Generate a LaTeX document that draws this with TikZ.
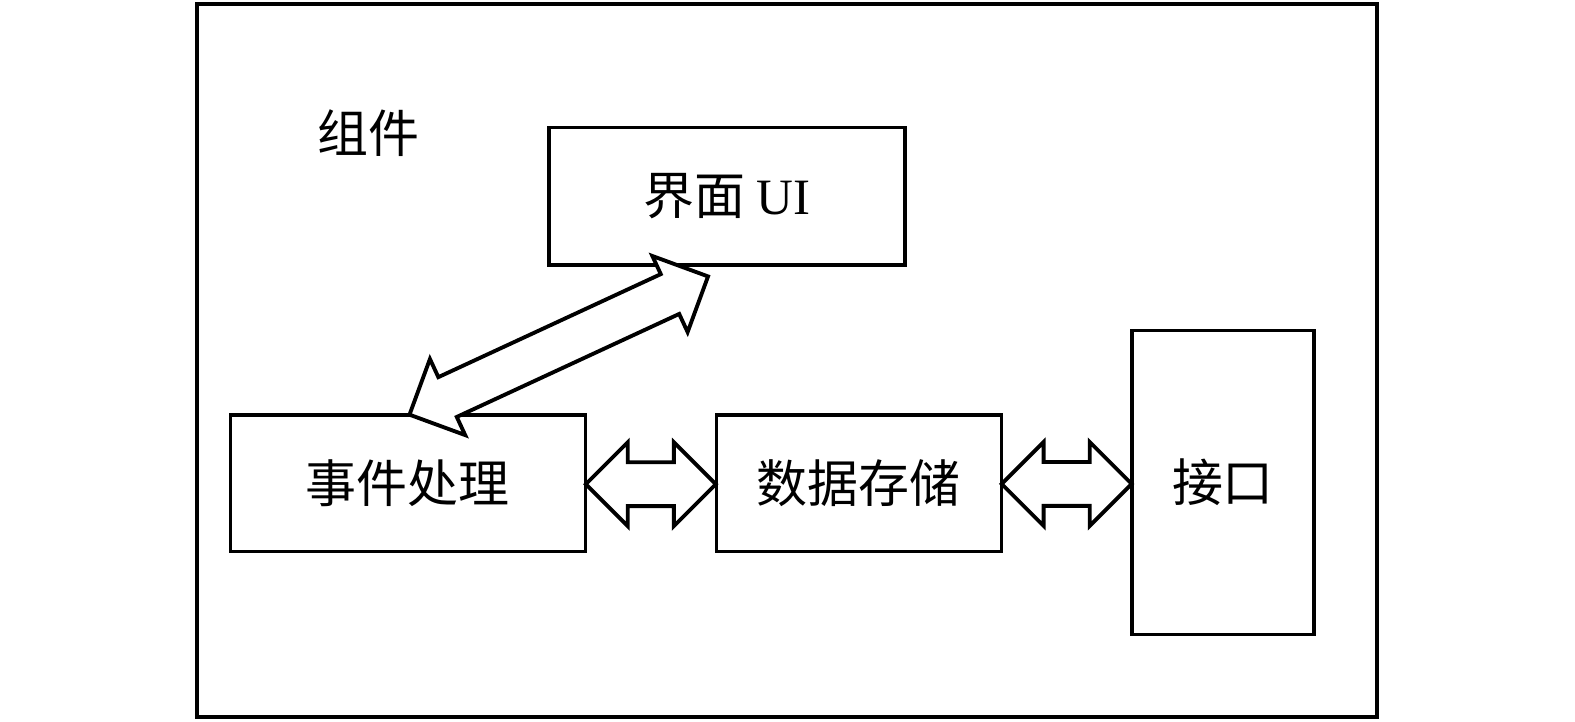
\documentclass[tikz,border=0pt]{standalone}
\usepackage{fontspec}
\setmainfont{Liberation Serif}
\newfontfamily\cjk{Noto Sans CJK SC}
\usetikzlibrary{calc,shapes.arrows}

\tikzset{
	box/.style={draw,line width=1pt,inner sep=0pt,font=\fontsize{14.5}{17}\selectfont\cjk},
	fatarrow/.style={double arrow,draw,line width=1.1pt,inner xsep=0pt,inner ysep=0.2cm,fill=white,
		double arrow head extend=0.2cm,double arrow tip angle=90}
}

\begin{document}
\begin{tikzpicture}[x=1.0045cm,y=1.0045cm]
	\useasboundingbox (0,0) rectangle (15.75cm,-7.22cm);
	\draw[line width=1.2pt] (1.96,-0.04) rectangle (13.71,-7.14);
	\node[font=\fontsize{14.5}{17}\selectfont\cjk] (title) at (3.67,-1.33) {组件};

	% components
	\node[box,minimum width=3.56cm,minimum height=1.375cm] (ui) at (7.235,-1.955) {界面~{\rmfamily UI}};
	\node[box,minimum width=3.55cm,minimum height=1.365cm] (ev) at (4.06,-4.81) {事件处理};
	\node[box,minimum width=2.85cm,minimum height=1.365cm] (db) at (8.55,-4.81) {数据存储};
	\node[box,minimum width=1.82cm,minimum height=3.04cm] (io) at (12.175,-4.805) {接口};

	% connections
	\node[fatarrow,minimum height=1.30cm] (a1) at ($(ev.east)!0.5!(db.west)+(0,-0.01)$) {};
	\node[fatarrow,minimum height=1.30cm] (a2) at ($(db.east)!0.5!(io.west)+(0,-0.01)$) {};
	\coordinate (lt) at ($(ev.north)+(0.02,0)$);
	\coordinate (rt) at ($(ui.south west)+(1.6,-0.11)$);
	\node[fatarrow,minimum height=3.29cm,rotate=24.85] (a3) at ($(lt)!0.5!(rt)$) {};
\end{tikzpicture}
\end{document}
